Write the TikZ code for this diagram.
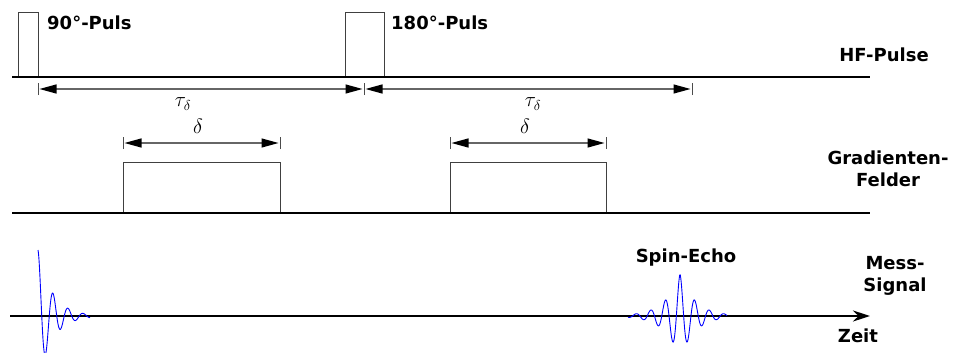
\documentclass[tikz,border=0pt]{standalone}
\usepackage{fontspec}
\setsansfont{DejaVu Sans}
\usetikzlibrary{arrows.meta, positioning}

\begin{document}
\begin{tikzpicture}[x=1pt, y=-1pt,
    axisline/.style={line width=2pt, black},
    pulse/.style={line width=0.9pt, black!75},
    dim/.style={{Triangle[length=17pt,width=9pt,black]}-{Triangle[length=17pt,width=9pt,black]}, line width=1.2pt, black!60, shorten <=1.5pt, shorten >=1.5pt},
    tick/.style={line width=0.8pt, black!70},
    lbl/.style={font=\sffamily\bfseries\fontsize{18}{22}\selectfont, inner sep=0pt, align=center},
    sym/.style={font=\fontsize{22}{26}\selectfont, inner sep=0pt},
    wave/.style={blue, line width=0.9pt}
]
\useasboundingbox (0,0) rectangle (955,353);

% pulses
\draw[pulse] (18,77) rectangle (38,12);
\draw[pulse] (345,77) rectangle (384,12);
\draw[pulse] (123,213) rectangle (280,162);
\draw[pulse] (450,213) rectangle (606,162);

\draw[axisline] (12,77) -- (870,77);
\draw[axisline] (12,213) -- (870,213);
\coordinate (t0) at (10,316);
\coordinate (t1) at (870,316);
\draw[axisline, -{Stealth[length=17pt,width=11pt]}] (t0) -- (t1);

% dimensions
\coordinate (a0) at (38,89);
\coordinate (a1) at (364,89);
\coordinate (a2) at (692,89);
\coordinate (d0) at (123,143);
\coordinate (d1) at (280,143);
\coordinate (d2) at (450,143);
\coordinate (d3) at (606,143);
\foreach \c in {a0,a1,a2,d0,d1,d2,d3}
    \draw[tick] ([yshift=-6pt]\c) -- ([yshift=6pt]\c);
\foreach \i/\j in {a0/a1, a1/a2, d0/d1, d2/d3}
    \draw[dim] (\i) -- (\j);

\node[sym] (tau1) at (183,104) {$\tau_\delta$};
\node[sym] (tau2) at (533,104) {$\tau_\delta$};
\node[sym] (del1) at (198,126) {$\delta$};
\node[sym] (del2) at (525,126) {$\delta$};

\node[lbl, anchor=base west] (p90) at (47,30) {90°-Puls};
\node[lbl, anchor=base west] (p180) at (391,30) {180°-Puls};
\node[lbl, anchor=base] (hf) at (884,61) {HF-Pulse};
\node[lbl] (grad) at (888,169) {Gradienten-\\Felder};
\node[lbl] (mess) at (895,276) {Mess-\\Signal};
\node[lbl, anchor=base] (echo) at (686,262) {Spin-Echo};
\node[lbl, anchor=base] (zeit) at (858,342) {Zeit};

% signals
\draw[wave] plot[domain=0:52, samples=160, smooth] ({38+\x},{316-66*exp(-\x/14)*cos(24*\x)});
\draw[wave] plot[domain=-52:47, samples=200, smooth] ({680+\x},{316-42*exp(-abs(\x)/15)*cos(180*\x/7.3)});
\end{tikzpicture}
\end{document}
